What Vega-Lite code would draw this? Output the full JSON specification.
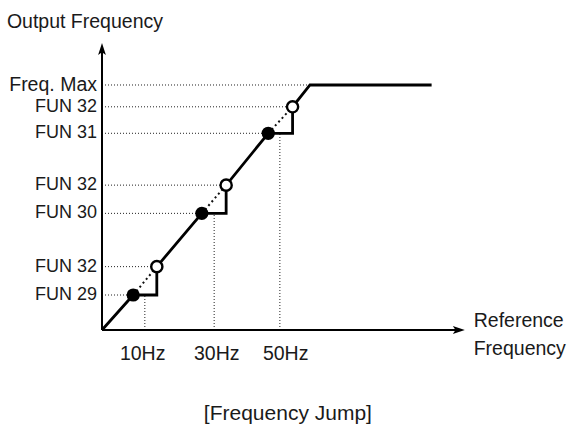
{
  "$schema": "https://vega.github.io/schema/vega-lite/v6.json",
  "width": 363,
  "height": 288,
  "padding": {"left": 102, "top": 42, "right": 103, "bottom": 97},
  "autosize": {"type": "none"},
  "background": "white",
  "config": {"view": {"stroke": null}, "text": {"font": "Liberation Sans, Arial, sans-serif", "fontSize": 19.5, "color": "#1a1a1a"}},
  "datasets": {
    "guides": [
      {"x": 0, "y": 85.07, "x2": 57.3, "y2": 85.07},
      {"x": 0, "y": 77.5, "x2": 52.5, "y2": 77.5},
      {"x": 0, "y": 68.3, "x2": 45.8, "y2": 68.3},
      {"x": 0, "y": 50.3, "x2": 34.2, "y2": 50.3},
      {"x": 0, "y": 40.5, "x2": 27.5, "y2": 40.5},
      {"x": 0, "y": 22.0, "x2": 15.1, "y2": 22.0},
      {"x": 0, "y": 12.15, "x2": 8.6, "y2": 12.15},
      {"x": 11.8, "y": 0, "x2": 11.8, "y2": 12.15},
      {"x": 30.9, "y": 0, "x2": 30.9, "y2": 40.5},
      {"x": 49.0, "y": 0, "x2": 49.0, "y2": 68.3}
    ],
    "jumps": [
      {"x": 8.6, "y": 12.15, "x2": 15.1, "y2": 22.0},
      {"x": 27.5, "y": 40.5, "x2": 34.2, "y2": 50.3},
      {"x": 45.8, "y": 68.3, "x2": 52.5, "y2": 77.5}
    ],
    "path": [
      {"i": 0, "x": 0, "y": 0},
      {"i": 1, "x": 8.6, "y": 12.15},
      {"i": 2, "x": 15.1, "y": 12.15},
      {"i": 3, "x": 15.1, "y": 22.0},
      {"i": 4, "x": 27.5, "y": 40.5},
      {"i": 5, "x": 34.2, "y": 40.5},
      {"i": 6, "x": 34.2, "y": 50.3},
      {"i": 7, "x": 45.8, "y": 68.3},
      {"i": 8, "x": 52.5, "y": 68.3},
      {"i": 9, "x": 52.5, "y": 77.5},
      {"i": 10, "x": 57.3, "y": 85.07},
      {"i": 11, "x": 90.8, "y": 85.07}
    ],
    "filled": [
      {"x": 8.6, "y": 12.15},
      {"x": 27.5, "y": 40.5},
      {"x": 45.8, "y": 68.3}
    ],
    "open": [
      {"x": 15.1, "y": 22.0},
      {"x": 34.2, "y": 50.3},
      {"x": 52.5, "y": 77.5}
    ],
    "axes": [
      {"x": 0, "y": 0, "x2": 0, "y2": 98},
      {"x": 0, "y": 0, "x2": 98.5, "y2": 0}
    ],
    "arrows": [
      {"x": 0, "y": 97.6, "angle": 0},
      {"x": 98.3, "y": 0, "angle": 90}
    ],
    "maxlabel": [
      {"label": "Freq. Max", "y": 85.07}
    ],
    "ylabels": [
      {"label": "FUN 32", "y": 77.5},
      {"label": "FUN 31", "y": 68.3},
      {"label": "FUN 32", "y": 50.3},
      {"label": "FUN 30", "y": 40.5},
      {"label": "FUN 32", "y": 22.0},
      {"label": "FUN 29", "y": 12.15}
    ],
    "xlabels": [
      {"label": "10Hz", "x": 11.2},
      {"label": "30Hz", "x": 31.6},
      {"label": "50Hz", "x": 50.6}
    ],
    "lefttitles": [
      {"label": "Output Frequency", "x": -26.2, "y": 104.9},
      {"label": "Reference", "x": 102.4, "y": 1.0},
      {"label": "Frequency", "x": 102.4, "y": -8.7}
    ],
    "caption": [
      {"label": "[Frequency Jump]", "x": 51.2, "y": -31.25}
    ]
  },
  "layer": [
    {
      "data": {"name": "guides"},
      "mark": {"type": "rule", "color": "#222", "strokeWidth": 1, "strokeDash": [1, 2]},
      "encoding": {
        "x": {"field": "x", "type": "quantitative", "scale": {"domain": [0, 100], "nice": false, "zero": false}, "axis": null},
        "y": {"field": "y", "type": "quantitative", "scale": {"domain": [0, 100], "nice": false, "zero": false}, "axis": null},
        "x2": {"field": "x2"},
        "y2": {"field": "y2"}
      }
    },
    {
      "data": {"name": "jumps"},
      "mark": {"type": "rule", "color": "#111", "strokeWidth": 2, "strokeDash": [2, 3]},
      "encoding": {
        "x": {"field": "x", "type": "quantitative"},
        "y": {"field": "y", "type": "quantitative"},
        "x2": {"field": "x2"},
        "y2": {"field": "y2"}
      }
    },
    {
      "data": {"name": "axes"},
      "mark": {"type": "rule", "color": "#000", "strokeWidth": 2},
      "encoding": {
        "x": {"field": "x", "type": "quantitative"},
        "y": {"field": "y", "type": "quantitative"},
        "x2": {"field": "x2"},
        "y2": {"field": "y2"}
      }
    },
    {
      "data": {"name": "arrows"},
      "mark": {"type": "point", "shape": "M0,-1L0.65,1L0,0.55L-0.65,1Z", "filled": true, "color": "#000", "opacity": 1, "size": 144},
      "encoding": {
        "x": {"field": "x", "type": "quantitative"},
        "y": {"field": "y", "type": "quantitative"},
        "angle": {"field": "angle", "type": "quantitative", "scale": null}
      }
    },
    {
      "data": {"name": "path"},
      "mark": {"type": "line", "color": "#000", "strokeWidth": 2.8, "strokeJoin": "miter", "strokeCap": "butt"},
      "encoding": {
        "x": {"field": "x", "type": "quantitative"},
        "y": {"field": "y", "type": "quantitative"},
        "order": {"field": "i", "type": "quantitative"}
      }
    },
    {
      "data": {"name": "filled"},
      "mark": {"type": "point", "shape": "circle", "filled": true, "color": "#000", "opacity": 1, "size": 175},
      "encoding": {
        "x": {"field": "x", "type": "quantitative"},
        "y": {"field": "y", "type": "quantitative"}
      }
    },
    {
      "data": {"name": "open"},
      "mark": {"type": "point", "shape": "circle", "filled": false, "fill": "white", "fillOpacity": 1, "stroke": "#000", "strokeWidth": 2.4, "opacity": 1, "size": 125},
      "encoding": {
        "x": {"field": "x", "type": "quantitative"},
        "y": {"field": "y", "type": "quantitative"}
      }
    },
    {
      "data": {"name": "maxlabel"},
      "mark": {"type": "text", "align": "right", "baseline": "middle", "dx": -5},
      "encoding": {
        "x": {"datum": 0, "type": "quantitative"},
        "y": {"field": "y", "type": "quantitative"},
        "text": {"field": "label"}
      }
    },
    {
      "data": {"name": "ylabels"},
      "mark": {"type": "text", "align": "right", "baseline": "middle", "dx": -5, "fontSize": 18},
      "encoding": {
        "x": {"datum": 0, "type": "quantitative"},
        "y": {"field": "y", "type": "quantitative"},
        "text": {"field": "label"}
      }
    },
    {
      "data": {"name": "xlabels"},
      "mark": {"type": "text", "align": "center", "baseline": "alphabetic"},
      "encoding": {
        "x": {"field": "x", "type": "quantitative"},
        "y": {"datum": -10.4, "type": "quantitative"},
        "text": {"field": "label"}
      }
    },
    {
      "data": {"name": "lefttitles"},
      "mark": {"type": "text", "align": "left", "baseline": "alphabetic"},
      "encoding": {
        "x": {"field": "x", "type": "quantitative"},
        "y": {"field": "y", "type": "quantitative"},
        "text": {"field": "label"}
      }
    },
    {
      "data": {"name": "caption"},
      "mark": {"type": "text", "align": "center", "baseline": "alphabetic", "fontSize": 21},
      "encoding": {
        "x": {"field": "x", "type": "quantitative"},
        "y": {"field": "y", "type": "quantitative"},
        "text": {"field": "label"}
      }
    }
  ]
}
